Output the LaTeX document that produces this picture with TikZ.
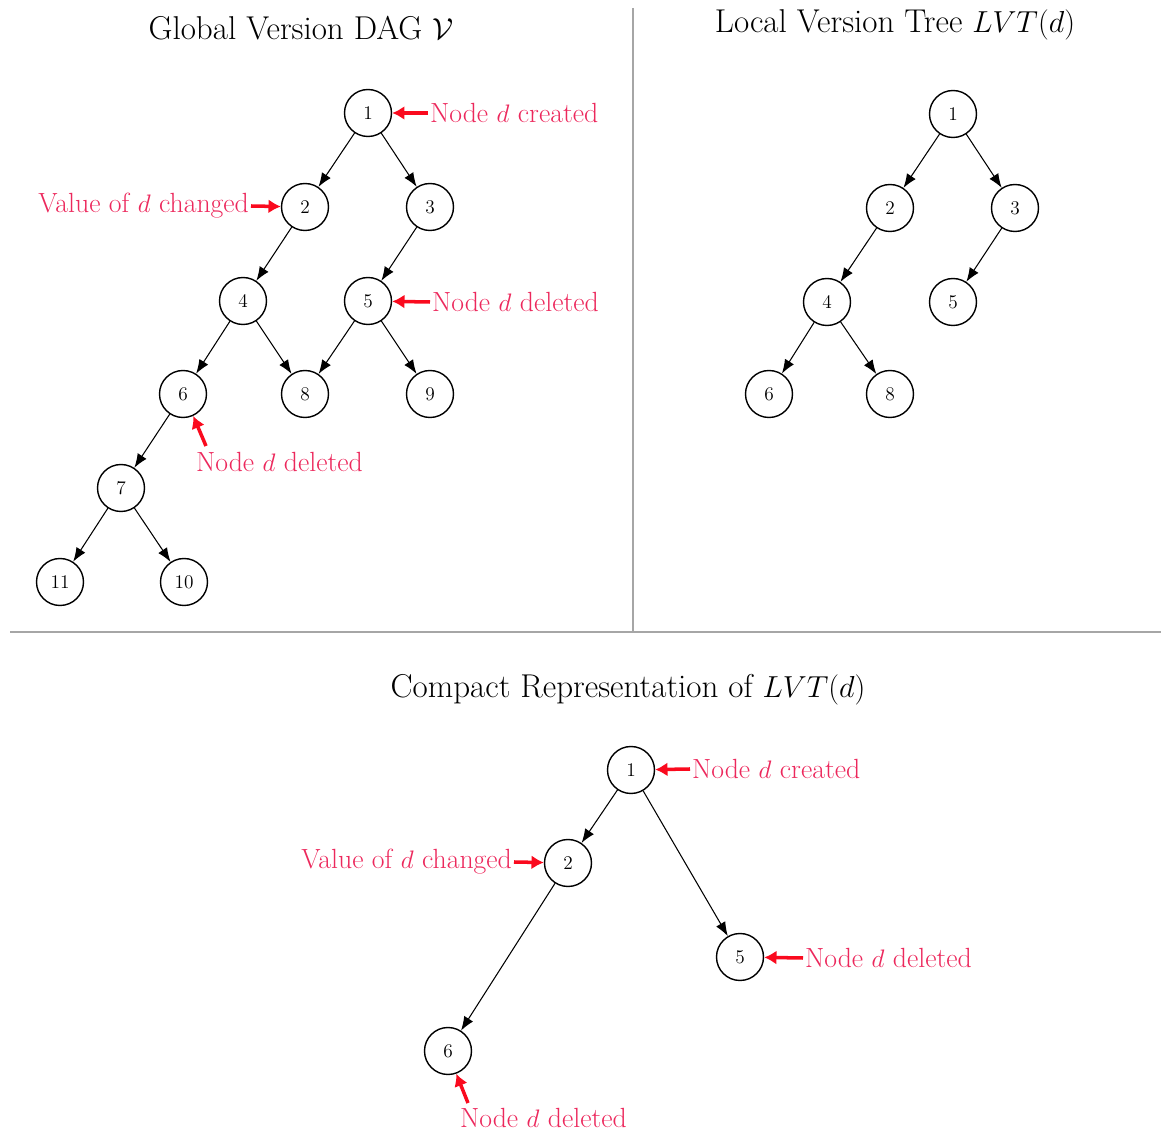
\documentclass[tikz,border=0pt]{standalone}
\usetikzlibrary{arrows.meta}
\definecolor{lblred}{RGB}{236,40,92}
\definecolor{arrred}{RGB}{250,10,30}
\begin{document}
\begin{tikzpicture}[x=0.02cm,y=-0.02cm,
  vnode/.style={circle,draw,line width=0.8pt,minimum size=0.94cm,inner sep=0pt,font=\fontsize{11}{13}\selectfont},
  edge/.style={-{Latex[length=8pt,width=6pt]},line width=0.6pt},
  lbl/.style={text=lblred,font=\fontsize{15.8}{18}\selectfont,inner sep=1pt},
  redarr/.style={-{Latex[length=7pt,width=8pt]},draw=arrred,line width=2pt},
  title/.style={font=\fontsize{18.8}{22}\selectfont},
  sep/.style={draw=gray!70}]
\useasboundingbox (0,0) rectangle (1161,1131);
% separators
\coordinate (vt) at (633,8);
\coordinate (vb) at (633,632);
\coordinate (hl) at (10,632);
\coordinate (hr) at (1161,632);
\draw[sep,line width=0.6pt] (vt) -- (vb);
\draw[sep,line width=1.2pt] (hl) -- (hr);
% titles
\node[title] (t1) at (301,28) {Global Version DAG $\mathcal{V}$};
\node[title] (t2) at (895,25) {Local Version Tree $LVT(d)$};
\node[title] (t3) at (628,690) {Compact Representation of $LVT(d)$};
% global DAG
\node[vnode] (g1) at (368,113) {1};
\node[vnode] (g2) at (305,207) {2};
\node[vnode] (g3) at (430,207) {3};
\node[vnode] (g4) at (243,301) {4};
\node[vnode] (g5) at (368,301) {5};
\node[vnode] (g6) at (183,394) {6};
\node[vnode] (g8) at (305,394) {8};
\node[vnode] (g9) at (430,394) {9};
\node[vnode] (g7) at (121,488) {7};
\node[vnode] (g11) at (60,582) {11};
\node[vnode] (g10) at (184,582) {10};
\foreach \a/\b in {g1/g2,g1/g3,g2/g4,g3/g5,g4/g6,g4/g8,g5/g8,g5/g9,g6/g7,g7/g11,g7/g10}
  \draw[edge] (\a) -- (\b);
\node[lbl,anchor=west] (gl1) at (428,113) {Node $d$ created};
\node[lbl,anchor=east] (gl2) at (251,206) {Value of $d$ changed};
\node[lbl,anchor=west] (gl3) at (430,302) {Node $d$ deleted};
\node[lbl,anchor=west] (gl4) at (194,462) {Node $d$ deleted};
\draw[redarr] (gl1.west) -- (g1);
\draw[redarr] (gl2.east) -- (g2);
\draw[redarr] (gl3.west) -- (g5);
\coordinate (gs4) at (206,446);
\draw[redarr] (gs4) -- (g6.-65);
% local version tree
\node[vnode] (l1) at (953,114) {1};
\node[vnode] (l2) at (890,208) {2};
\node[vnode] (l3) at (1015,208) {3};
\node[vnode] (l4) at (827,302) {4};
\node[vnode] (l5) at (953,302) {5};
\node[vnode] (l6) at (769,394) {6};
\node[vnode] (l8) at (890,394) {8};
\foreach \a/\b in {l1/l2,l1/l3,l2/l4,l3/l5,l4/l6,l4/l8}
  \draw[edge] (\a) -- (\b);
% compact representation
\node[vnode] (c1) at (631,770) {1};
\node[vnode] (c2) at (568,863) {2};
\node[vnode] (c5) at (740,957) {5};
\node[vnode] (c6) at (448,1051) {6};
\foreach \a/\b in {c1/c2,c1/c5,c2/c6}
  \draw[edge] (\a) -- (\b);
\node[lbl,anchor=west] (cl1) at (690,769) {Node $d$ created};
\node[lbl,anchor=east] (cl2) at (514,862) {Value of $d$ changed};
\node[lbl,anchor=west] (cl3) at (803,958) {Node $d$ deleted};
\node[lbl,anchor=west] (cl4) at (458,1118) {Node $d$ deleted};
\draw[redarr] (cl1.west) -- (c1);
\draw[redarr] (cl2.east) -- (c2);
\draw[redarr] (cl3.west) -- (c5);
\coordinate (cs4) at (468,1103);
\draw[redarr] (cs4) -- (c6.-70);
\end{tikzpicture}
\end{document}
